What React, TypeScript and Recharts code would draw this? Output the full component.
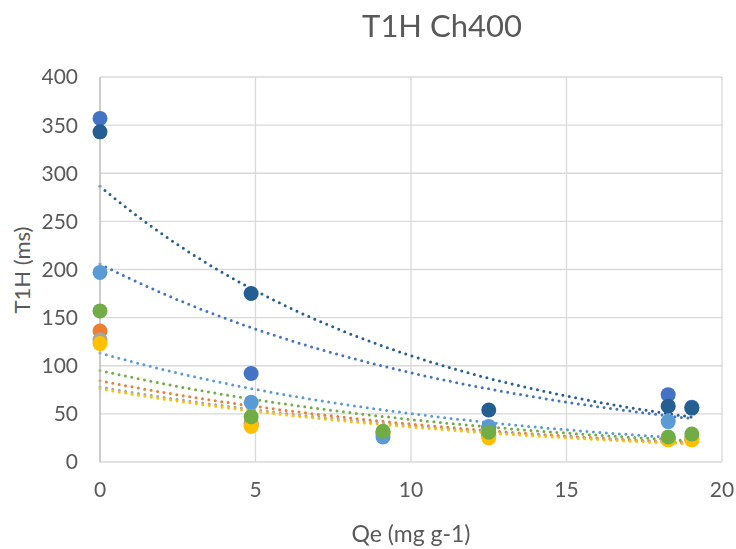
import React from 'react';
import { ComposedChart, Line, Scatter, XAxis, YAxis, CartesianGrid } from 'recharts';

// Qe values shared by every sample (mg g-1)
const qe = [0, 4.86, 9.1, 12.5, 18.27, 19.03];

// T1H (ms) per series, null where no marker
const blue = [357, 92, null, 36, 70, 57];
const orange = [136, 40, 31, 29, 24, 24];
const gray = [127, 38, 29, 27, 24, 24];
const yellow = [123, 37, 29, 25, 23, 23];
const lightBlue = [197, 62, 26, 37, 42, null];
const green = [157, 47, 32, 31, 26, 29];
const darkBlue = [343, 175, null, 54, 58, 56];

const xTicks = [0, 5, 10, 15, 20];
const yTicks = [0, 50, 100, 150, 200, 250, 300, 350, 400];

const seriesList = [
  { key: 'blue', values: blue, color: '#4472C4' },
  { key: 'orange', values: orange, color: '#ED7D31' },
  { key: 'gray', values: gray, color: '#A5A5A5' },
  { key: 'yellow', values: yellow, color: '#FFC000' },
  { key: 'lightBlue', values: lightBlue, color: '#5B9BD5' },
  { key: 'green', values: green, color: '#70AD47' },
  { key: 'darkBlue', values: darkBlue, color: '#255E91' },
];

const toPoints = (values: (number | null)[]) =>
  qe.map((x, i) => ({ x, y: values[i] })).filter((p) => p.y !== null) as { x: number; y: number }[];

// exponential trendline (least squares on ln y), like Excel's
const expTrend = (pts: { x: number; y: number }[]) => {
  const n = pts.length;
  const mx = pts.reduce((s, p) => s + p.x, 0) / n;
  const my = pts.reduce((s, p) => s + Math.log(p.y), 0) / n;
  let sxy = 0;
  let sxx = 0;
  pts.forEach((p) => {
    sxy += (p.x - mx) * (Math.log(p.y) - my);
    sxx += (p.x - mx) * (p.x - mx);
  });
  const b = sxy / sxx;
  const a = Math.exp(my - b * mx);
  const x0 = Math.min(...pts.map((p) => p.x));
  const x1 = Math.max(...pts.map((p) => p.x));
  const out = [];
  const steps = 60;
  for (let i = 0; i <= steps; i++) {
    const x = x0 + ((x1 - x0) * i) / steps;
    out.push({ x, y: a * Math.exp(b * x) });
  }
  return out;
};

const font = 'Lato, "Open Sans", sans-serif';
const textColor = '#595959';

export default function App() {
  const series = seriesList.map((s) => {
    const pts = toPoints(s.values);
    return { ...s, pts, trend: expTrend(pts) };
  });

  return (
    <div style={{ position: 'fixed', left: 0, top: 0, width: 736, height: 549, background: '#fff', fontFamily: font }}>
      <div style={{ position: 'absolute', left: 0, width: 884, top: 5, textAlign: 'center', fontSize: 31, lineHeight: '40px', color: textColor }}>
        T1H Ch400
      </div>
      <div
        style={{
          position: 'absolute',
          left: 22,
          top: 270,
          transform: 'translate(-50%, -50%) rotate(-90deg)',
          fontSize: 22,
          lineHeight: '28px',
          color: textColor,
          whiteSpace: 'nowrap',
        }}
      >
        T1H (ms)
      </div>
      <div style={{ position: 'absolute', left: 0, width: 822, top: 519, textAlign: 'center', fontSize: 23, lineHeight: '28px', color: textColor }}>
        Qe (mg g-1)
      </div>
      <ComposedChart width={736} height={549} margin={{ top: 77, right: 14, bottom: 27, left: 30 }}>
        <CartesianGrid stroke="#D9D9D9" strokeWidth={1.3} />
        <XAxis
          type="number"
          dataKey="x"
          domain={[0, 20]}
          ticks={xTicks}
          height={60}
          axisLine={false}
          tickLine={false}
          tickSize={0}
          tickMargin={20}
          tick={{ fontSize: 21, fill: textColor, fontFamily: font }}
          allowDuplicatedCategory={false}
        />
        <YAxis
          type="number"
          dataKey="y"
          domain={[0, 400]}
          ticks={yTicks}
          width={70}
          axisLine={{ stroke: '#BFBFBF', strokeWidth: 1.3 }}
          tickLine={false}
          tickSize={0}
          tickMargin={22}
          tick={{ fontSize: 21, fill: textColor, fontFamily: font }}
        />
        {series.map((s) => (
          <Line
            key={`t-${s.key}`}
            data={s.trend}
            dataKey="y"
            type="linear"
            stroke={s.color}
            strokeWidth={3}
            strokeDasharray="0 6.5"
            strokeLinecap="round"
            dot={false}
            activeDot={false}
            isAnimationActive={false}
          />
        ))}
        {series.map((s) => (
          <Scatter
            key={`s-${s.key}`}
            data={s.pts}
            dataKey="y"
            fill={s.color}
            isAnimationActive={false}
            shape={(p: any) => <circle cx={p.cx} cy={p.cy} r={7.5} fill={s.color} />}
          />
        ))}
      </ComposedChart>
    </div>
  );
}
